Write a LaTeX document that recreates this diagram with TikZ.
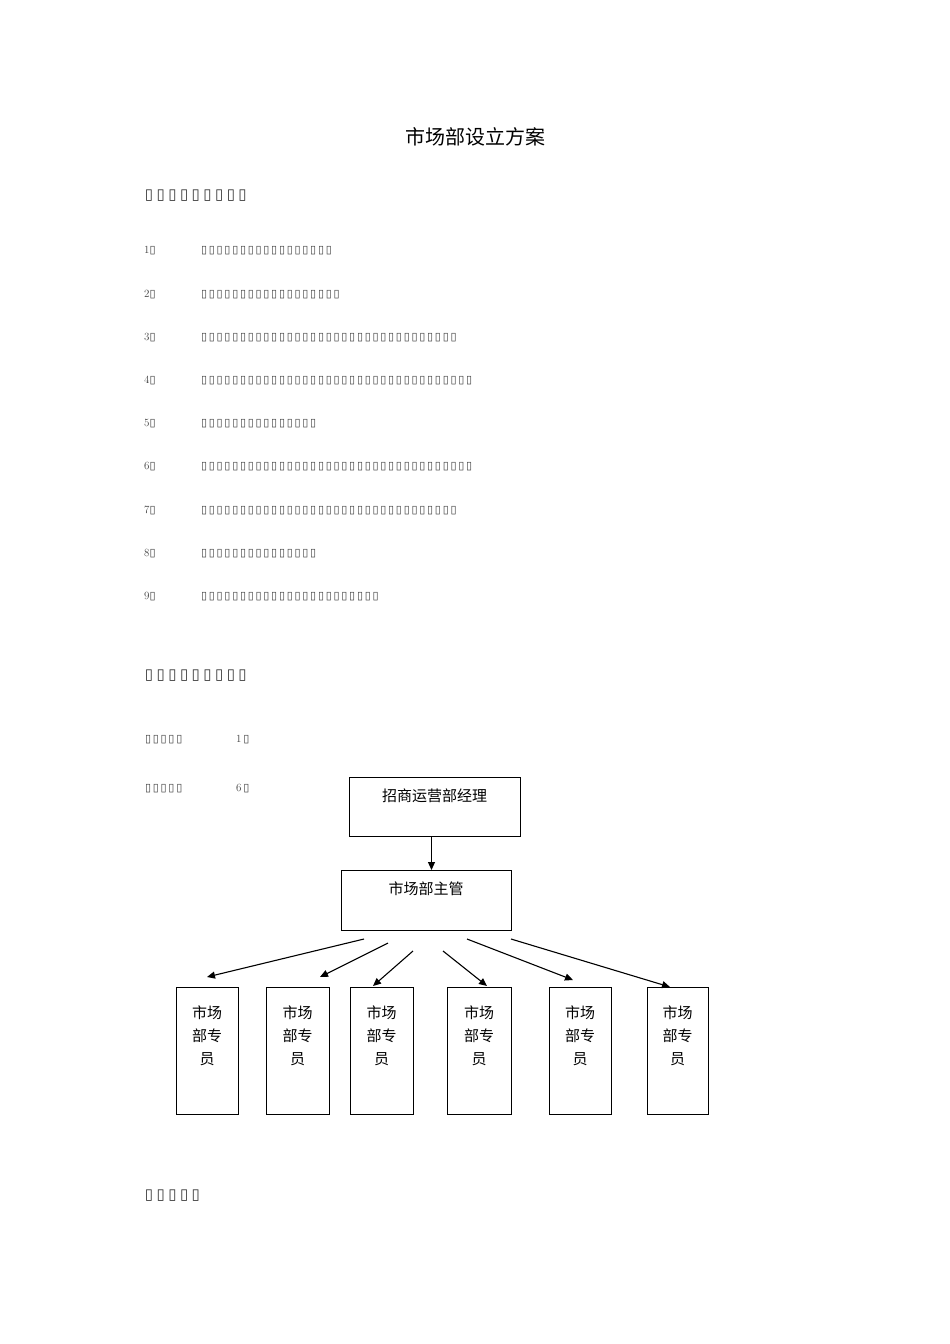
\documentclass[tikz,border=0pt]{standalone}
\usepackage{fontspec}
\newfontfamily\cjk{Noto Sans CJK SC}
\newfontfamily\dv{DejaVu Sans}
\usetikzlibrary{arrows.meta}
\newcommand\tofuchars[2]{\foreach \i in {1,...,#1}{\makebox[#2]{\dv ▯}}}
\tikzset{x=1pt,y=-1pt,
 body/.style={anchor=west,inner sep=0pt,font=\fontsize{11}{11}\selectfont,text=black!75},
 head/.style={anchor=west,inner sep=0pt,font=\fontsize{15}{15}\selectfont,text=black!80},
 org/.style={draw,line width=0.9pt,inner sep=0pt},
 lbl/.style={font=\cjk\fontsize{15}{15}\selectfont,inner sep=0pt},
 arr/.style={-{Triangle[length=8pt,width=7pt]},line width=1.1pt}}
\begin{document}
\begin{tikzpicture}
\useasboundingbox (0,0) rectangle (950,1344);
\node[font=\cjk\fontsize{20}{20}\selectfont] (title) at (475,137) {市场部设立方案};
\node[head] (h1) at (143,196) {\tofuchars{9}{11.7pt}};
\foreach \n/\c [count=\k] in {1/17,2/18,3/33,4/35,5/15,6/35,7/33,8/15,9/23}{
  \node[body] (n\k) at (144,{251+43.2*(\k-1)}) {\n\makebox[6pt]{\dv ▯}};
  \node[body] (t\k) at (200,{251+43.2*(\k-1)}) {\tofuchars{\c}{7.8pt}};
}
\node[head] (h2) at (143,676) {\tofuchars{9}{11.7pt}};
\node[body] (p1) at (144,740) {\tofuchars{5}{7.8pt}};
\node[body] (p1n) at (236,740) {1\,\makebox[6pt]{\dv ▯}};
\node[body] (p2) at (144,789) {\tofuchars{5}{7.8pt}};
\node[body] (p2n) at (236,789) {6\,\makebox[6pt]{\dv ▯}};
\node[head] (h3) at (143,1196) {\tofuchars{5}{11.7pt}};
% org chart
\draw[org] (349,777) rectangle (520,836);
\node[lbl] (mgr) at (434.5,796) {招商运营部经理};
\draw[org] (341,870) rectangle (511,930);
\node[lbl] (sup) at (426,889) {市场部主管};
\coordinate (mb) at (431.5,836);
\coordinate (st) at (431.5,870);
\draw[arr] (mb) -- (st);
\foreach \a/\b [count=\k] in {176/238,266/329,350/413,447/511,549/611,647/708}{
  \draw[org] (\a,987) rectangle (\b,1114);
  \node[lbl,align=center] (s\k) at ({(\a+\b)/2},1036) {市场\\[8pt]部专\\[8pt]员};
}
\foreach \x/\y/\u/\v [count=\k] in {364/939/207/977,388/943/320/977,413/951/373/986,443/951/487/986,467/939/573/980,511/939/670/987}{
  \coordinate (f\k) at (\x,\y); \coordinate (e\k) at (\u,\v);
  \draw[arr] (f\k) -- (e\k);
}
\end{tikzpicture}
\end{document}
